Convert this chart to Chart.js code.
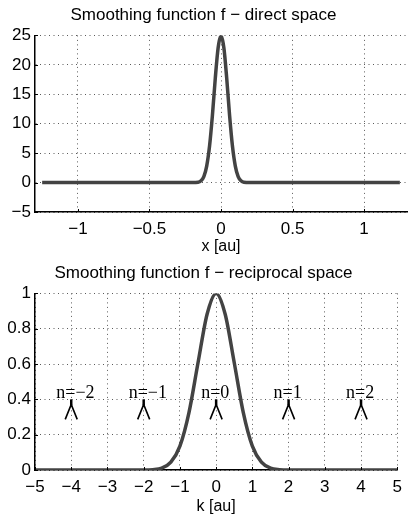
<!DOCTYPE html>
<html>
<head>
<meta charset="utf-8">
<script src="https://cdn.jsdelivr.net/npm/chart.js@4"></script>
<style>
  html, body { margin: 0; padding: 0; background: #fff; }
  #wrap { position: relative; width: 409px; height: 516px; overflow: hidden; }
  .box { position: absolute; left: 0; width: 409px; }
</style>
</head>
<body>
<div id="wrap">
  <div class="box" style="top:0;height:256px"><canvas id="direct"></canvas></div>
  <div class="box" style="top:250px;height:266px"><canvas id="recip"></canvas></div>
</div>
<script>
// direct space: f(x)
const xDirect = [-1.25, -0.3, -0.2, -0.16, -0.14, -0.12, -0.1, -0.08, -0.06, -0.04, -0.02, 0,
                 0.02, 0.04, 0.06, 0.08, 0.1, 0.12, 0.14, 0.16, 0.2, 0.3, 1.25];
const fDirect = [0, 0, 0, 0.05, 0.3, 1.0, 2.8, 6.2, 11.4, 17.7, 22.9, 25,
                 22.9, 17.7, 11.4, 6.2, 2.8, 1.0, 0.3, 0.05, 0, 0, 0];
const xTicksDirect = [-1, -0.5, 0, 0.5, 1];
const yTicksDirect = [-5, 0, 5, 10, 15, 20, 25];

// reciprocal space: f(k)
const kRecip = [-5, -2.5, -2, -1.75, -1.5, -1.25, -1, -0.75, -0.5, -0.25, 0,
                0.25, 0.5, 0.75, 1, 1.25, 1.5, 1.75, 2, 2.5, 5];
const fRecip = [0, 0, 0, 0.002, 0.011, 0.044, 0.135, 0.325, 0.607, 0.882, 1,
                0.882, 0.607, 0.325, 0.135, 0.044, 0.011, 0.002, 0, 0, 0];
const kTicks = [-5, -4, -3, -2, -1, 0, 1, 2, 3, 4, 5];
const yTicksRecip = [0, 0.2, 0.4, 0.6, 0.8, 1];

// n markers
const nValues = [-2, -1, 0, 1, 2];
const nPositions = [-4, -2, 0, 2, 4];
const nLevel = 0.4;

const lineColor = '#434343';
const gridColor = '#5a5a5a';
const fontFam = '"Liberation Sans", Arial, Helvetica, sans-serif';

function fmt(v) {
  return String(v).replace('-', '\u2212');
}

function toPoints(xs, ys) {
  return xs.map((x, i) => ({ x: x, y: ys[i] }));
}

// small inward tick marks, MATLAB style
const innerTicks = {
  id: 'innerTicks',
  afterDraw(chart) {
    const ctx = chart.ctx;
    const xs = chart.scales.x, ys = chart.scales.y;
    const a = chart.chartArea;
    ctx.save();
    ctx.strokeStyle = '#000';
    ctx.lineWidth = 1;
    ctx.beginPath();
    xs.ticks.forEach(t => {
      const px = Math.round(xs.getPixelForValue(t.value)) + 0.5;
      ctx.moveTo(px, a.bottom);
      ctx.lineTo(px, a.bottom - 3);
    });
    ys.ticks.forEach(t => {
      const py = Math.round(ys.getPixelForValue(t.value)) + 0.5;
      ctx.moveTo(a.left, py);
      ctx.lineTo(a.left + 3, py);
    });
    ctx.stroke();
    ctx.restore();
  }
};

// n=... labels with wedge arrows
const nMarkers = {
  id: 'nMarkers',
  afterDatasetsDraw(chart) {
    const ctx = chart.ctx;
    const xs = chart.scales.x, ys = chart.scales.y;
    ctx.save();
    ctx.fillStyle = '#000';
    ctx.strokeStyle = '#000';
    ctx.font = '18px "Liberation Serif", "Times New Roman", serif';
    ctx.textBaseline = 'alphabetic';
    ctx.textAlign = 'left';
    nValues.forEach((n, i) => {
      const px = xs.getPixelForValue(nPositions[i]);
      const py = ys.getPixelForValue(nLevel);
      ctx.fillText('n=' + fmt(n), px - 15, py - 1);
      ctx.lineWidth = 2.5;
      ctx.beginPath();
      ctx.moveTo(px, py);
      ctx.lineTo(px, py + 6);
      ctx.stroke();
      ctx.lineWidth = 1.6;
      ctx.beginPath();
      ctx.moveTo(px - 6, py + 20);
      ctx.lineTo(px, py + 5);
      ctx.lineTo(px + 6, py + 20);
      ctx.stroke();
    });
    ctx.restore();
  }
};

function makeChart(id, pts, xMin, xMax, xTicks, yMin, yMax, yTicks, title, xTitle, titlePad, xHeight, extra) {
  return new Chart(document.getElementById(id).getContext('2d'), {
    type: 'line',
    data: {
      datasets: [{
        data: pts,
        borderColor: lineColor,
        borderWidth: 3.5,
        pointRadius: 0,
        fill: false,
        cubicInterpolationMode: 'monotone'
      }]
    },
    options: {
      responsive: true,
      maintainAspectRatio: false,
      animation: false,
      layout: { padding: { left: 0, right: 2, top: 0, bottom: 0 } },
      plugins: {
        legend: { display: false },
        tooltip: { enabled: false },
        title: {
          display: true,
          text: title,
          color: '#000',
          font: { family: fontFam, size: 17, weight: 'normal' },
          padding: titlePad
        }
      },
      scales: {
        x: {
          type: 'linear',
          min: xMin,
          max: xMax,
          afterBuildTicks: s => { s.ticks = xTicks.map(v => ({ value: v })); },
          afterFit: s => { s.height = xHeight; },
          ticks: {
            color: '#000',
            font: { family: fontFam, size: 17 },
            padding: 7,
            maxRotation: 0,
            autoSkip: false,
            callback: v => fmt(v)
          },
          grid: { color: gridColor, lineWidth: 1, drawTicks: false },
          border: { display: true, color: '#000', width: 1.5, dash: [1, 3.5] },
          title: {
            display: true,
            text: xTitle,
            color: '#000',
            font: { family: fontFam, size: 16 },
            padding: { top: 0, bottom: 0 }
          }
        },
        y: {
          type: 'linear',
          min: yMin,
          max: yMax,
          afterBuildTicks: s => { s.ticks = yTicks.map(v => ({ value: v })); },
          afterFit: s => { s.width = 35; },
          ticks: {
            color: '#000',
            font: { family: fontFam, size: 17 },
            padding: 4,
            autoSkip: false,
            callback: v => fmt(v)
          },
          grid: { color: gridColor, lineWidth: 1, drawTicks: false },
          border: { display: true, color: '#000', width: 1.5, dash: [1, 3.5] }
        }
      }
    },
    plugins: [innerTicks].concat(extra)
  });
}

makeChart('direct', toPoints(xDirect, fDirect), -1.3, 1.3, xTicksDirect, -5, 25, yTicksDirect,
  'Smoothing function f \u2212 direct space', 'x [au]', { top: 5, bottom: 10 }, 44, []);
makeChart('recip', toPoints(kRecip, fRecip), -5, 5, kTicks, 0, 1, yTicksRecip,
  'Smoothing function f \u2212 reciprocal space', 'k [au]', { top: 13, bottom: 10 }, 46, [nMarkers]);
</script>
</body>
</html>
